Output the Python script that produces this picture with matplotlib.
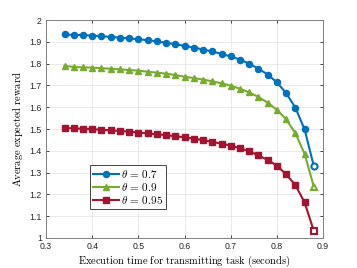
#!/usr/bin/env python3
import numpy as np
import matplotlib as mpl
mpl.use('Agg')
import matplotlib.pyplot as plt

# +
# data
# -
exec_time = [0.34, 0.36, 0.38, 0.40, 0.42, 0.44, 0.46, 0.48, 0.50, 0.52,
             0.54, 0.56, 0.58, 0.60, 0.62, 0.64, 0.66, 0.68, 0.70, 0.72,
             0.74, 0.76, 0.78, 0.80, 0.82, 0.84, 0.86, 0.88]
reward_07 = [1.934, 1.932, 1.931, 1.929, 1.926, 1.923, 1.920, 1.916, 1.912, 1.908,
             1.902, 1.896, 1.889, 1.882, 1.874, 1.865, 1.856, 1.845, 1.833, 1.819,
             1.800, 1.777, 1.750, 1.714, 1.665, 1.598, 1.498, 1.329]
reward_09 = [1.790, 1.785, 1.783, 1.782, 1.779, 1.777, 1.774, 1.771, 1.768, 1.763,
             1.759, 1.754, 1.748, 1.740, 1.734, 1.727, 1.719, 1.710, 1.699, 1.685,
             1.668, 1.647, 1.621, 1.588, 1.545, 1.481, 1.386, 1.235]
reward_095 = [1.505, 1.503, 1.501, 1.499, 1.497, 1.494, 1.491, 1.488, 1.484, 1.480,
              1.476, 1.472, 1.467, 1.462, 1.456, 1.449, 1.441, 1.433, 1.424, 1.412,
              1.398, 1.379, 1.358, 1.332, 1.292, 1.243, 1.163, 1.032]
labels = [r'$\theta\, =\, 0.7$', r'$\theta\, =\, 0.9$', r'$\theta\, =\, 0.95$']

# +
# style
# -
plt.rcParams['mathtext.fontset'] = 'cm'
plt.rcParams['font.family'] = ['Liberation Sans', 'DejaVu Sans']

fig = plt.figure(figsize=(3.57, 2.68), dpi=100)
ax = fig.add_axes([0.129, 0.112, 0.776, 0.813])

series = [(reward_07, '#0072BD', 'o', 4.4),
          (reward_09, '#77AC30', '^', 4.8),
          (reward_095, '#A2142F', 's', 4.2)]
for (ys, c, m, ms), lab in zip(series, labels):
    ax.plot(exec_time, ys, color=c, lw=1.5, marker=m, ms=ms, mfc=c, mec=c,
            markevery=slice(0, len(ys) - 1), label=lab, zorder=3)
    # last point drawn hollow
    ax.plot(exec_time[-1:], ys[-1:], ls='none', marker=m, ms=ms, mfc='white',
            mec=c, mew=1.5, zorder=4)

ax.set_xlim(0.3, 0.9)
ax.set_ylim(1.0, 2.0)
ax.set_xticks(np.arange(0.3, 0.91, 0.1))
ax.set_xticklabels(['0.3', '0.4', '0.5', '0.6', '0.7', '0.8', '0.9'])
ax.set_yticks(np.arange(1.0, 2.01, 0.1))
ax.set_yticklabels(['1', '1.1', '1.2', '1.3', '1.4', '1.5', '1.6', '1.7', '1.8', '1.9', '2'])
ax.tick_params(direction='in', length=2.5, width=0.6, labelsize=6.3,
               colors='#262626', top=True, right=True, pad=3)
for sp in ax.spines.values():
    sp.set_color('#808080')
    sp.set_linewidth(0.7)
ax.grid(True, color='#e6e6e6', lw=0.6)
ax.set_axisbelow(True)

ax.set_xlabel(r'$\mathrm{Execution\ time\ for\ transmitting\ task\ (seconds)}$',
              fontsize=7.5, labelpad=2)
ax.set_ylabel(r'$\mathrm{Average\ expected\ reward}$', fontsize=7.5, labelpad=3)

leg = ax.legend(loc='lower left', bbox_to_anchor=(0.16, 0.135), fontsize=8,
                fancybox=False, framealpha=1, edgecolor='#262626',
                handlelength=2.3, handletextpad=0.2, borderpad=0.25,
                labelspacing=0.1, borderaxespad=0)
leg.get_frame().set_linewidth(0.6)

plt.savefig('out.png', dpi=100)
